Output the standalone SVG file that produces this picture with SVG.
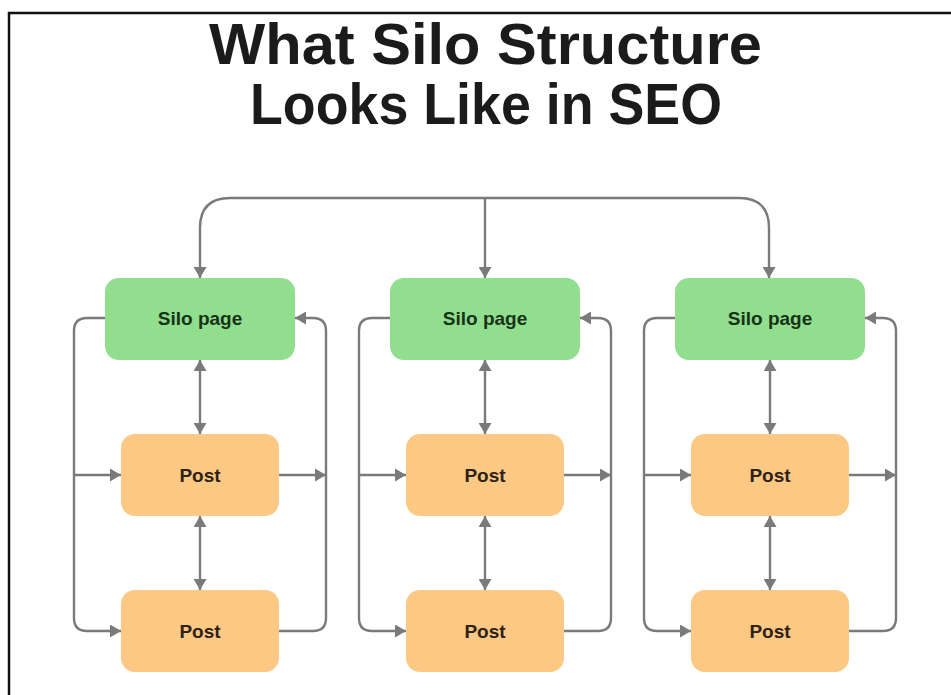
<svg xmlns="http://www.w3.org/2000/svg" width="951" height="695" viewBox="0 0 951 695">
<style>
.title{font-family:"Liberation Sans",Arial,sans-serif;font-weight:bold;font-size:58px;fill:#1b1b1b;text-anchor:middle}
.silo rect{fill:#90de8e}
.post rect{fill:#fcc985}
.lbl{font-family:"Liberation Sans",Arial,sans-serif;font-weight:bold;font-size:19px;text-anchor:middle}
.silo text{fill:#173317}
.post text{fill:#2e2215}
.c path{fill:none;stroke:#7a7a7a;stroke-width:2.4;marker-end:url(#ah)}
.c path.b{marker-start:url(#ah)}
</style>
<defs>
<marker id="ah" viewBox="0 0 11 13" refX="11" refY="6.5" markerWidth="11" markerHeight="13" markerUnits="userSpaceOnUse" orient="auto-start-reverse">
<path d="M0,0 L11,6.5 L0,13 z" fill="#7a7a7a"/>
</marker>
</defs>
<rect width="951" height="695" fill="#fff"/>
<path d="M9,695 V13 H951" fill="none" stroke="#111" stroke-width="2.5"/>
<text class="title" x="485.5" y="64" textLength="553" lengthAdjust="spacingAndGlyphs">What Silo Structure</text>
<text class="title" x="486" y="124" textLength="472" lengthAdjust="spacingAndGlyphs">Looks Like in SEO</text>

<g class="c" id="connectors">
<path d="M485,198 H230 Q200,198 200,228 V278"/>
<path d="M485,198 V278"/>
<path d="M485,198 H739 Q769,198 769,228 V278"/>

<path d="M105,318 H87 Q74,318 74,331 V618 Q74,631 87,631 H121"/>
<path d="M74,475 H121"/>
<path d="M279,475 H326"/>
<path d="M279,631 H313 Q326,631 326,618 V331 Q326,318 313,318 H295"/>
<path class="b" d="M200,360 V434"/>
<path class="b" d="M200,516 V590"/>

<path d="M390,318 H372 Q359,318 359,331 V618 Q359,631 372,631 H406"/>
<path d="M359,475 H406"/>
<path d="M564,475 H611"/>
<path d="M564,631 H598 Q611,631 611,618 V331 Q611,318 598,318 H580"/>
<path class="b" d="M485,360 V434"/>
<path class="b" d="M485,516 V590"/>

<path d="M675,318 H657 Q644,318 644,331 V618 Q644,631 657,631 H691"/>
<path d="M644,475 H691"/>
<path d="M849,475 H896"/>
<path d="M849,631 H883 Q896,631 896,618 V331 Q896,318 883,318 H865"/>
<path class="b" d="M770,360 V434"/>
<path class="b" d="M770,516 V590"/>
</g>

<g id="silo1" class="silo"><rect x="105" y="278" width="190" height="82" rx="14"/><text class="lbl" x="200" y="325">Silo page</text></g>
<g id="post1a" class="post"><rect x="121" y="434" width="158" height="82" rx="14"/><text class="lbl" x="200" y="482">Post</text></g>
<g id="post1b" class="post"><rect x="121" y="590" width="158" height="82" rx="14"/><text class="lbl" x="200" y="638">Post</text></g>

<g id="silo2" class="silo"><rect x="390" y="278" width="190" height="82" rx="14"/><text class="lbl" x="485" y="325">Silo page</text></g>
<g id="post2a" class="post"><rect x="406" y="434" width="158" height="82" rx="14"/><text class="lbl" x="485" y="482">Post</text></g>
<g id="post2b" class="post"><rect x="406" y="590" width="158" height="82" rx="14"/><text class="lbl" x="485" y="638">Post</text></g>

<g id="silo3" class="silo"><rect x="675" y="278" width="190" height="82" rx="14"/><text class="lbl" x="770" y="325">Silo page</text></g>
<g id="post3a" class="post"><rect x="691" y="434" width="158" height="82" rx="14"/><text class="lbl" x="770" y="482">Post</text></g>
<g id="post3b" class="post"><rect x="691" y="590" width="158" height="82" rx="14"/><text class="lbl" x="770" y="638">Post</text></g>
</svg>
